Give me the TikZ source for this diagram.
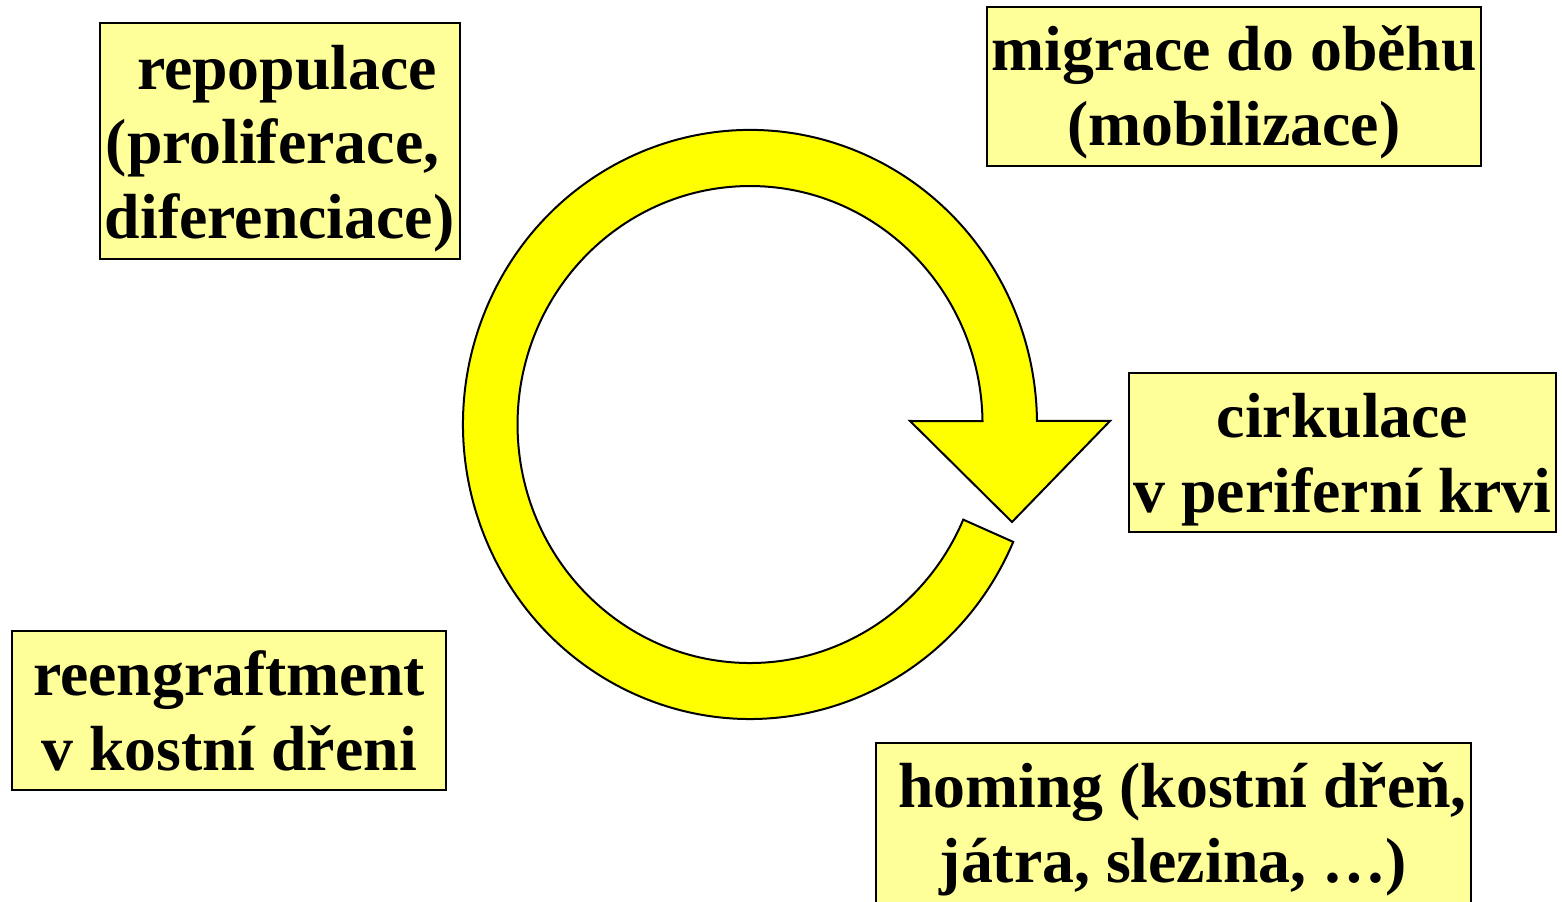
\documentclass[tikz,border=0pt]{standalone}
\usepackage{fontspec}
\setmainfont{Liberation Serif}
\definecolor{boxfill}{RGB}{255,255,153}
\definecolor{arrowfill}{RGB}{255,255,0}
\begin{document}
\begin{tikzpicture}[x=1bp,y=1bp,
  boxshape/.style={draw=black, line width=2bp, fill=boxfill, inner sep=0pt, anchor=north west},
  boxtext/.style={inner sep=0pt, align=center, font=\fontsize{64}{75}\selectfont\bfseries},
  cyc/.style={draw=black, line width=2bp, fill=arrowfill, line join=miter}]
\useasboundingbox (0,0) rectangle (1562,901);
\clip (0,0) rectangle (1562,901);
% cyclic arrow
\draw[cyc] (1013.2,359.1)
  arc[start angle=-23.5, end angle=-359.3, x radius=287, y radius=294.5]
  -- (1110,480) -- (1012,379) -- (910,480) -- (982.5,479.8)
  arc[start angle=-359.2, end angle=-23.5, x radius=232.5, y radius=238.5]
  -- cycle;
% boxes
\node[boxshape, minimum width=361, minimum height=237] (rep) at (99,879) {};
\node[boxshape, minimum width=496, minimum height=160] (mig) at (986,895) {};
\node[boxshape, minimum width=429, minimum height=160] (cir) at (1128,529) {};
\node[boxshape, minimum width=436, minimum height=160] (ree) at (11,271) {};
\node[boxshape, minimum width=597, minimum height=170] (hom) at (875,159) {};
% texts
\node[boxtext] (repT) at (279.5,752.5)
  {\hspace*{15bp}repopulace\\(proliferace,\rule{14bp}{0pt}\\diferenciace)};
\node[boxtext] (migT) at (1234,809)
  {migrace do oběhu\\(mobilizace)};
\node[boxtext] (cirT) at (1342.5,441)
  {cirkulace\\v periferní krvi};
\node[boxtext] (reeT) at (229,190)
  {reengraftment\\v kostní dřeni};
\node[boxtext] (homT) at (1173.5,71.5)
  {\hspace*{18bp}homing (kostní dřeň,\\játra, slezina, …)};
\end{tikzpicture}
\end{document}
